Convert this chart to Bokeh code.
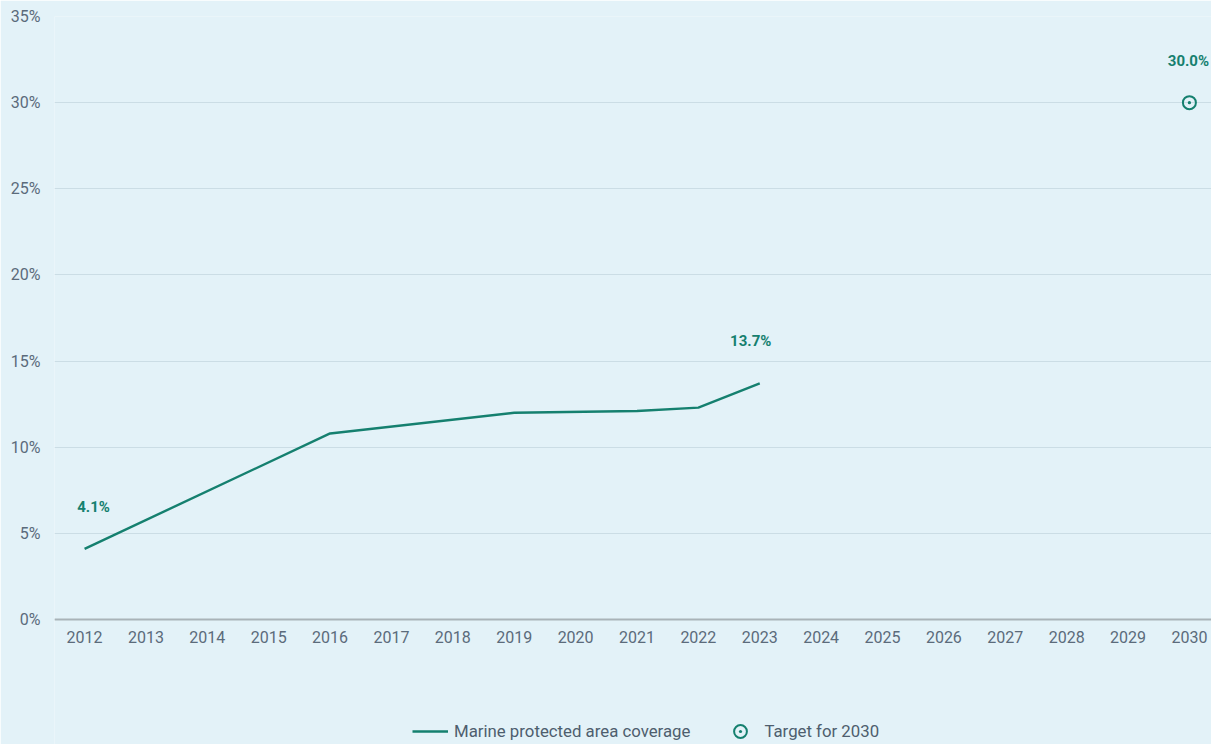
from bokeh.plotting import figure
from bokeh.models import (ColumnDataSource, FixedTicker, PrintfTickFormatter, Range1d,
                          Legend, LegendItem)
from bokeh.core.properties import value
from bokeh.embed import file_html
from bokeh.resources import INLINE

years = [2012, 2016, 2019, 2021, 2022, 2023]
coverage = [4.1, 10.8, 12.0, 12.1, 12.3, 13.7]
target_year = [2030]
target_value = [30.0]
label_years = [2012, 2023, 2030]
label_values = [4.1, 13.7, 30.0]
x_ticks = list(range(2012, 2031))
y_ticks = [0, 5, 10, 15, 20, 25, 30, 35]

TEAL = "#15806f"
BG = "#e3f2f8"
FONT = "Roboto"

# frame spans the whole lower area so the legend can sit inside it;
# the x axis is pinned at y = 0
p = figure(width=1211, height=744, output_backend="svg", toolbar_location=None,
           x_range=Range1d(2011.51, 2030.36), y_range=Range1d(-7.255, 35),
           min_border_left=54, min_border_right=0, min_border_top=16, min_border_bottom=0)
p.background_fill_color = BG
p.border_fill_color = BG
p.outline_line_color = None

line = p.line(years, coverage, line_color=TEAL, line_width=2.4)
tgt = p.scatter(target_year, target_value, marker="circle_dot", size=13,
                line_color=TEAL, line_width=2, fill_color=None)

src = ColumnDataSource(dict(x=label_years, y=label_values,
                            t=[f"{v:.1f}%" for v in label_values],
                            xo=[9, -9, -1]))
p.text(x="x", y="y", text="t", source=src, x_offset="xo", y_offset=-42,
       text_align="center", text_baseline="middle", text_color=TEAL,
       text_font=value(FONT), text_font_style="bold", text_font_size="15px")

p.xaxis.ticker = FixedTicker(ticks=x_ticks)
p.xaxis.fixed_location = 0
p.yaxis.ticker = FixedTicker(ticks=y_ticks)
p.yaxis.formatter = PrintfTickFormatter(format="%d%%")
for ax in (p.xaxis, p.yaxis):
    ax.major_tick_line_color = None
    ax.minor_tick_line_color = None
    ax.major_label_text_font = FONT
    ax.major_label_text_font_size = "16px"
    ax.major_label_text_color = "#5b6b7b"
p.yaxis.axis_line_color = None
p.yaxis.major_label_standoff = 8
p.xaxis.axis_line_color = "#a9b3b8"
p.xaxis.axis_line_width = 2
p.xaxis.major_label_standoff = 5
p.xgrid.grid_line_color = None
p.ygrid.grid_line_color = "#cbdde5"
p.ygrid.grid_line_width = 1

legend = Legend(items=[LegendItem(label="Marine protected area coverage", renderers=[line]),
                       LegendItem(label="Target for 2030", renderers=[tgt])],
                orientation="horizontal", location=(358, -3),
                background_fill_alpha=0, border_line_color=None,
                label_text_font=FONT, label_text_font_size="16.8px",
                label_text_color="#4e5e6e", spacing=32, glyph_width=36,
                glyph_height=32, label_standoff=6, margin=0, padding=0)
p.add_layout(legend, "center")

open("out.html", "w").write(file_html(p, INLINE))
